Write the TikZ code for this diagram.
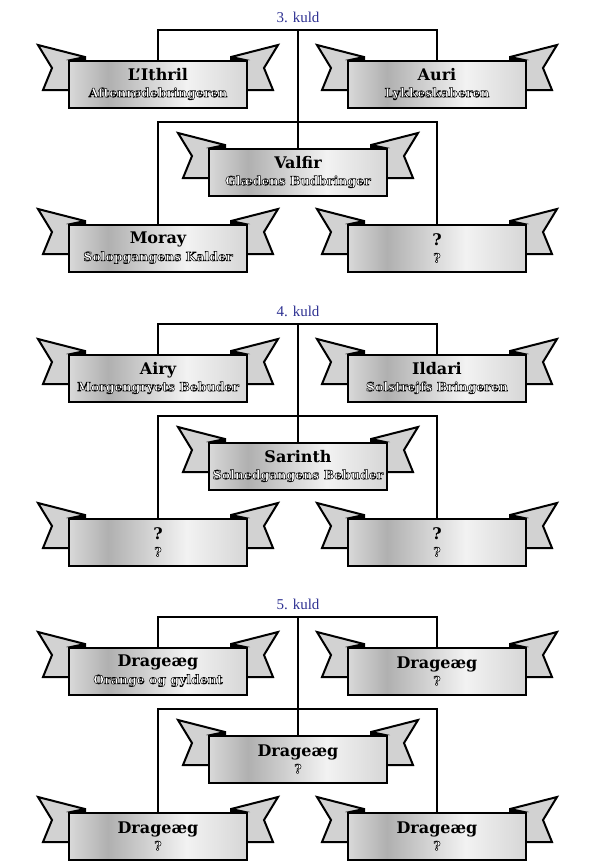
\documentclass[tikz,border=0pt]{standalone}
\usepackage{fontspec}
\usepackage{xcolor}
\usepackage{tikz}
\setmainfont{DejaVu Serif}
\newfontfamily\kuldfont{Liberation Serif}
\definecolor{tinta}{HTML}{2E3192}
\definecolor{cinta}{HTML}{D2D2D2}
\pgfdeclarehorizontalshading{metal}{100bp}{color(0bp)=(gray!30); color(25bp)=(gray!30); color(36bp)=(gray!62); color(58bp)=(gray!10); color(75bp)=(gray!32); color(100bp)=(gray!32)}

\tikzset{
  panel/.style={draw=black, line width=2pt, shading=metal, minimum width=178pt, minimum height=47pt, inner sep=0pt, align=center, font=\fontsize{13}{17}\selectfont},
  cola/.style={draw=black, line width=2pt, fill=cinta, line join=miter},
  pliegue/.style={fill=black},
  enlace/.style={line width=1.2pt},
  kuld/.style={color=tinta, font=\kuldfont\fontsize{15}{15}\selectfont}
}
\newcommand{\nombre}[1]{{\fontsize{16}{16}\selectfont\bfseries #1}}
% lema con letras huecas
\newcommand{\lema}[1]{{\fontsize{12.5}{13}\selectfont\bfseries\color{white}\special{pdf:literal direct 2 Tr 0 G 0.5 w}#1\special{pdf:literal direct 0 Tr}}}
% banderola: nombre, posicion, titulo, lema
\newcommand{\banderola}[4]{%
  \begin{scope}[shift={(#2)}]
    % colas
    \draw[cola] (-120,-39) -- (-73,-27) -- (-73,6) -- (-115,6) -- (-106,-16) -- cycle;
    \draw[cola] (120,-39) -- (73,-27) -- (73,6) -- (115,6) -- (106,-16) -- cycle;
    \fill[pliegue] (-92,-24) -- (-73,-28) -- (-73,-24) -- cycle;
    \fill[pliegue] (92,-24) -- (73,-28) -- (73,-24) -- cycle;
    % panel
    \node[panel] (#1) at (0,0) {\nombre{#3}\\\lema{#4}};
  \end{scope}}

\begin{document}
\begin{tikzpicture}[x=1pt, y=-1pt]
        \useasboundingbox (0,0) rectangle (596,865);

        % 3. kuld
        \node[kuld] (t3) at (298,17) {3. kuld};
        \coordinate (k3) at (298,30);
        \coordinate (m3) at (298,122);
        \draw[enlace] (158,84) |- (k3) -| (437,84);
        \draw[enlace] (k3) -- (298,172);
        \draw[enlace] (158,248) |- (m3) -| (437,248);
        \banderola{lithril}{158,84}{L'Ithril}{Aftenrødebringeren}
        \banderola{auri}{437,84}{Auri}{Lykkeskaberen}
        \banderola{valfir}{298,172}{Valfir}{Glædens Budbringer}
        \banderola{moray}{158,248}{Moray}{Solopgangens Kalder}
        \banderola{ukendt3}{437,248}{?}{?}

        % 4. kuld
        \node[kuld] (t4) at (298,311) {4. kuld};
        \coordinate (k4) at (298,324);
        \coordinate (m4) at (298,416);
        \draw[enlace] (158,378) |- (k4) -| (437,378);
        \draw[enlace] (k4) -- (298,466);
        \draw[enlace] (158,542) |- (m4) -| (437,542);
        \banderola{airy}{158,378}{Airy}{Morgengryets Bebuder}
        \banderola{ildari}{437,378}{Ildari}{Solstrejfs Bringeren}
        \banderola{sarinth}{298,466}{Sarinth}{Solnedgangens Bebuder}
        \banderola{ukendt4a}{158,542}{?}{?}
        \banderola{ukendt4b}{437,542}{?}{?}

        % 5. kuld
        \node[kuld] (t5) at (298,604) {5. kuld};
        \coordinate (k5) at (298,617);
        \coordinate (m5) at (298,709);
        \draw[enlace] (158,671) |- (k5) -| (437,671);
        \draw[enlace] (k5) -- (298,759);
        \draw[enlace] (158,836) |- (m5) -| (437,836);
        \banderola{aeg1}{158,671}{Drageæg}{Orange og gyldent}
        \banderola{aeg2}{437,671}{Drageæg}{?}
        \banderola{aeg3}{298,759}{Drageæg}{?}
        \banderola{aeg4}{158,836}{Drageæg}{?}
        \banderola{aeg5}{437,836}{Drageæg}{?}
\end{tikzpicture}
\end{document}
